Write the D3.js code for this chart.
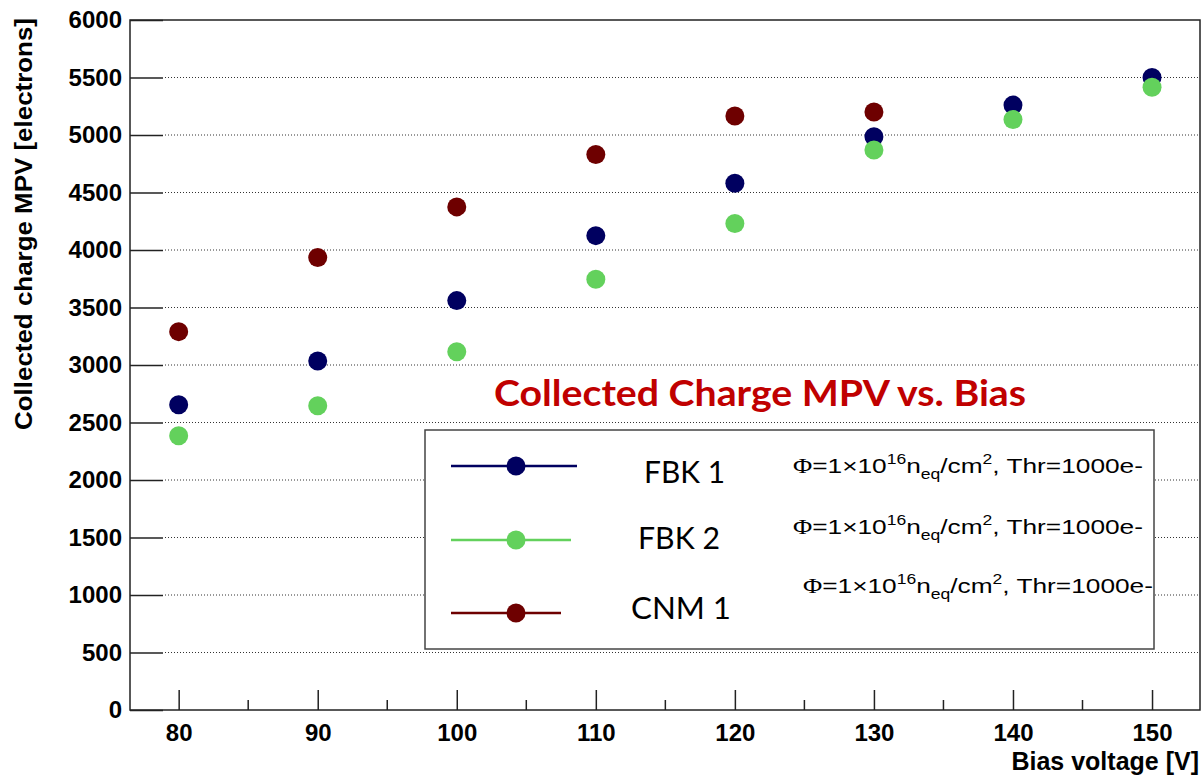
<!DOCTYPE html>
<html>
<head>
<meta charset="utf-8">
<script src="https://cdn.jsdelivr.net/npm/d3@7"></script>
<style>
  body { margin: 0; background: #fff; }
  svg { display: block; }
</style>
</head>
<body>
<div class="chart"></div>
<script>
// data
var biasVoltages = [80, 90, 100, 110, 120, 130, 140, 150];
var fbk1Charge = [2655, 3035, 3560, 4125, 4580, 4985, 5260, 5500];
var fbk2Charge = [2385, 2645, 3115, 3745, 4230, 4870, 5135, 5415];
var cnm1Charge = [3290, 3935, 4375, 4830, 5165, 5200];
var yTicks = [0, 500, 1000, 1500, 2000, 2500, 3000, 3500, 4000, 4500, 5000, 5500, 6000];
var xTicks = [80, 90, 100, 110, 120, 130, 140, 150];
var xMinorTicks = [85, 95, 105, 115, 125, 135, 145];
var seriesNames = ["FBK 1", "FBK 2", "CNM 1"];
var seriesColors = ["#000060", "#63d15c", "#6e0000"];

var svgWidth = 1203, svgHeight = 778;
var margin = {top: 20, right: 3, bottom: 68, left: 130};
var width = svgWidth - margin.left - margin.right;
var height = svgHeight - margin.top - margin.bottom;

var svg = d3.select(".chart").append("svg")
    .attr("width", svgWidth)
    .attr("height", svgHeight);

var chart = svg.append("g")
    .attr("transform", "translate(" + margin.left + "," + margin.top + ")");

var xScale = d3.scaleLinear().domain([76.5, 153.45]).range([0, width]);
var yScale = d3.scaleLinear().domain([0, 6000]).range([height, 0]);

// dotted horizontal grid
chart.append("g").selectAll("line")
    .data(yTicks.slice(1, -1))
    .enter().append("line")
    .attr("x1", 35).attr("x2", width)
    .attr("y1", function(d) { return yScale(d); })
    .attr("y2", function(d) { return yScale(d); })
    .attr("stroke", "#333")
    .attr("stroke-width", 1)
    .attr("stroke-dasharray", "1,2");

// frame
chart.append("rect")
    .attr("width", width).attr("height", height)
    .attr("fill", "none")
    .attr("stroke", "#222")
    .attr("stroke-width", 1.5);

// y axis: ticks go inward, labels outside
var leftAxis = d3.axisLeft(yScale).tickValues(yTicks).tickFormat(d3.format("d"))
    .tickSizeInner(-33).tickSizeOuter(0).tickPadding(8);
var yAxisG = chart.append("g").call(leftAxis);
yAxisG.select(".domain").remove();
yAxisG.selectAll("line").attr("stroke", "#222").attr("stroke-width", 1.5);
yAxisG.selectAll("text")
    .attr("x", -8)
    .style("font-family", "'Liberation Sans', Arial, sans-serif")
    .style("font-weight", "bold")
    .style("font-size", "24px")
    .attr("fill", "#000");

// x axis
var bottomAxis = d3.axisBottom(xScale).tickValues(xTicks).tickSizeInner(-20).tickSizeOuter(0).tickPadding(10);
var xAxisG = chart.append("g").attr("transform", "translate(0," + height + ")").call(bottomAxis);
xAxisG.select(".domain").remove();
xAxisG.selectAll("line").attr("stroke", "#222").attr("stroke-width", 1.5);
xAxisG.selectAll("text")
    .attr("y", 14)
    .style("font-family", "'Liberation Sans', Arial, sans-serif")
    .style("font-weight", "bold")
    .style("font-size", "24px")
    .attr("fill", "#000");

chart.append("g").selectAll("line")
    .data(xMinorTicks)
    .enter().append("line")
    .attr("x1", function(d) { return xScale(d); })
    .attr("x2", function(d) { return xScale(d); })
    .attr("y1", height).attr("y2", height - 10)
    .attr("stroke", "#222").attr("stroke-width", 1.5);

// axis titles
svg.append("text")
    .attr("x", 1199).attr("y", 770)
    .attr("text-anchor", "end")
    .style("font-family", "'Liberation Sans', Arial, sans-serif")
    .style("font-weight", "bold")
    .style("font-size", "25px")
    .text("Bias voltage [V]");

svg.append("text")
    .attr("transform", "translate(32,224) rotate(-90)")
    .attr("text-anchor", "middle")
    .attr("textLength", 412)
    .attr("lengthAdjust", "spacingAndGlyphs")
    .style("font-family", "'Liberation Sans', Arial, sans-serif")
    .style("font-weight", "bold")
    .style("font-size", "24px")
    .text("Collected charge MPV [electrons]");

// points
var allSeries = [fbk1Charge, fbk2Charge, cnm1Charge];
[2, 0, 1].forEach(function(i) {
    chart.append("g").selectAll("circle")
        .data(allSeries[i])
        .enter().append("circle")
        .attr("cx", function(d, j) { return xScale(biasVoltages[j]); })
        .attr("cy", function(d) { return yScale(d); })
        .attr("r", 9.5)
        .attr("fill", seriesColors[i]);
});

// title inside plot
svg.append("text")
    .attr("x", 494).attr("y", 406)
    .attr("textLength", 532)
    .attr("lengthAdjust", "spacingAndGlyphs")
    .style("font-family", "Lato, 'Open Sans', sans-serif")
    .style("font-weight", "bold")
    .style("font-size", "37px")
    .attr("fill", "#c00000")
    .text("Collected Charge MPV vs. Bias");

// legend
var legend = svg.append("g");
legend.append("rect")
    .attr("x", 425).attr("y", 430)
    .attr("width", 729).attr("height", 219)
    .attr("fill", "#fff")
    .attr("stroke", "#444")
    .attr("stroke-width", 1.5);

var legendRows = [
    {y: 466, lineEnd: 577, labelX: 644, labelY: 483, labelW: 81, phiX: 793, phiY: 473},
    {y: 540, lineEnd: 571, labelX: 638, labelY: 549, labelW: 82, phiX: 793, phiY: 534},
    {y: 613, lineEnd: 561, labelX: 631, labelY: 619, labelW: 100, phiX: 803, phiY: 593}
];

legendRows.forEach(function(r, i) {
    legend.append("line")
        .attr("x1", 451).attr("x2", r.lineEnd)
        .attr("y1", r.y).attr("y2", r.y)
        .attr("stroke", seriesColors[i]).attr("stroke-width", 2.5);
    legend.append("circle")
        .attr("cx", 516).attr("cy", r.y).attr("r", 9.5)
        .attr("fill", seriesColors[i]);
    legend.append("text")
        .attr("x", r.labelX).attr("y", r.labelY)
        .attr("textLength", r.labelW)
        .attr("lengthAdjust", "spacingAndGlyphs")
        .style("font-family", "Lato, 'Open Sans', sans-serif")
        .style("font-size", "31px")
        .text(seriesNames[i]);

    var t = legend.append("text")
        .attr("x", r.phiX).attr("y", r.phiY)
        .attr("textLength", 350)
        .attr("lengthAdjust", "spacingAndGlyphs")
        .style("font-family", "'Liberation Sans', Arial, sans-serif")
        .style("font-size", "21px");
    t.append("tspan").style("font-family", "'Liberation Serif', 'DejaVu Serif', serif").text("\u03A6");
    t.append("tspan").text("=1\u00D710");
    t.append("tspan").attr("dy", -9).style("font-size", "14px").text("16");
    t.append("tspan").attr("dy", 9).text("n");
    t.append("tspan").attr("dy", 6).style("font-size", "14px").text("eq");
    t.append("tspan").attr("dy", -6).text("/cm");
    t.append("tspan").attr("dy", -9).style("font-size", "14px").text("2");
    t.append("tspan").attr("dy", 9).text(", Thr=1000e-");
});
</script>
</body>
</html>
